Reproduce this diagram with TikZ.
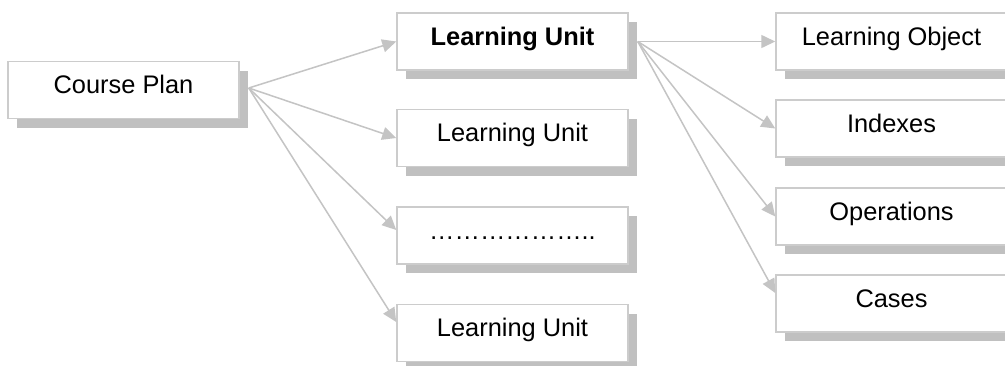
\documentclass[tikz,border=0pt]{standalone}
\usepackage{fontspec}
\setmainfont{Liberation Sans}
\usetikzlibrary{shadows,arrows.meta,calc}
\definecolor{linegray}{RGB}{196,196,196}
\definecolor{shadowgray}{RGB}{192,192,192}
\definecolor{bordergray}{RGB}{204,204,204}
\begin{document}
\begin{tikzpicture}[x=0.5pt,y=-0.5pt,
  box/.style={draw=bordergray, line width=0.75pt, fill=white,
    minimum width=115.5pt, inner xsep=0pt, inner ysep=0pt,
    text height=16pt, text depth=12.5pt,
    font=\fontsize{12.7pt}{15pt}\selectfont,
    drop shadow={shadow xshift=4.5pt, shadow yshift=-4.5pt, fill=shadowgray, opacity=1}},
  conn/.style={draw=linegray, line width=0.75pt,
    -{Triangle[length=7pt,width=6.5pt,fill=linegray]}}]
\clip (0,0) rectangle (1005,365);
\fill[white] (0,0) rectangle (1005,365);
\node[box] (cp) at (123.5,90) {Course Plan};
\node[box] (lu1) at (512.5,41.5) {\bfseries Learning Unit};
\node[box] (lu2) at (512.5,138) {Learning Unit};
\node[box] (dots) at (512.5,235.5) {………………..};
\node[box] (lu4) at (512.5,333) {Learning Unit};
\node[box] (lo) at (891.5,41.5) {Learning Object};
\node[box] (ix) at (891.5,128.5) {Indexes};
\node[box] (op) at (891.5,216.5) {Operations};
\node[box] (cs) at (891.5,303.5) {Cases};
\coordinate (cpo) at ($(cp.east)+(4.5pt,1pt)$);
\coordinate (luo) at ($(lu1.east)+(4.5pt,0pt)$);
\draw[conn] (cpo) -- (lu1.west);
\draw[conn] (cpo) -- (lu2.west);
\draw[conn] (cpo) -- ($(dots.west)+(0,2.75pt)$);
\draw[conn] (cpo) -- ($(lu4.west)+(0,5.5pt)$);
\draw[conn] (luo) -- (lo.west);
\draw[conn] (luo) -- (ix.west);
\draw[conn] (luo) -- (op.west);
\draw[conn] (luo) -- ($(cs.west)+(0,5.25pt)$);
\end{tikzpicture}
\end{document}
